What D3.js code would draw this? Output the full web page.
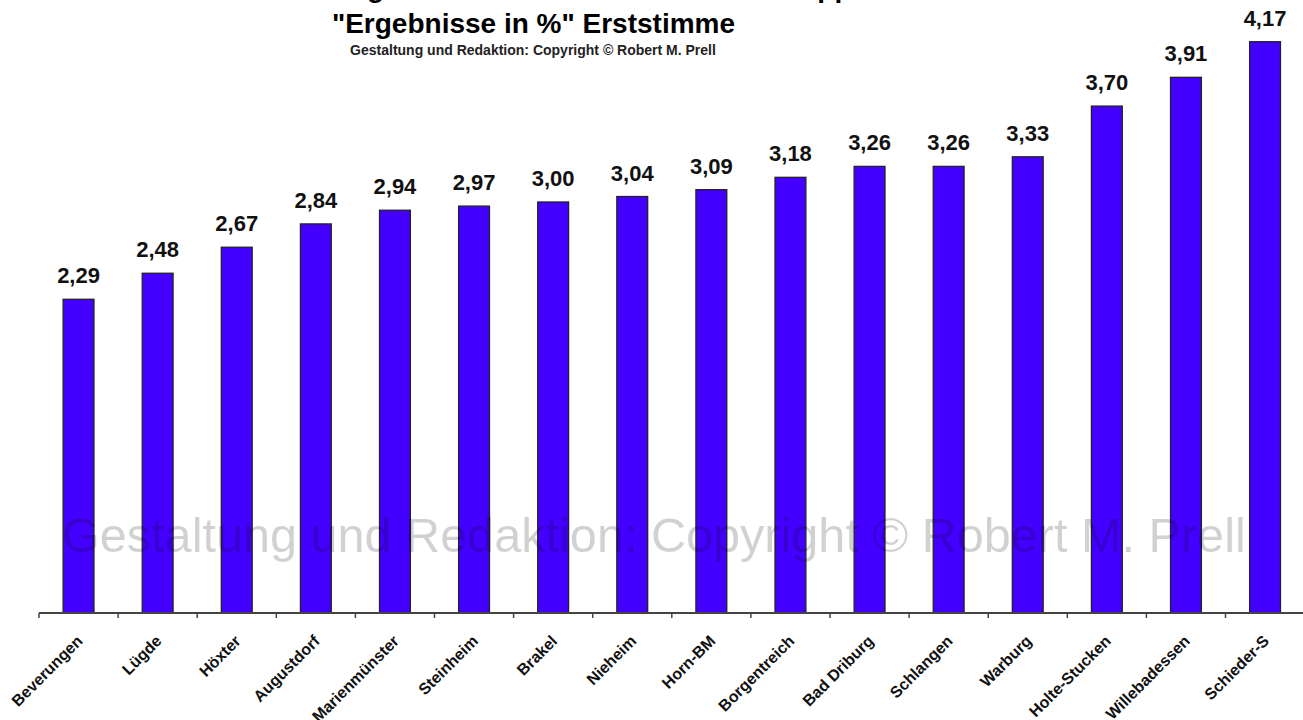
<!DOCTYPE html>
<html>
<head>
<meta charset="utf-8">
<script src="https://cdn.jsdelivr.net/npm/d3@7"></script>
<style>
  body { margin: 0; background: #fff; }
  svg { display: block; font-family: "Liberation Sans", Arial, sans-serif; }
</style>
</head>
<body>
<svg id="chart" width="1303" height="720"></svg>
<script>
// Erststimme in % je Stadt/Gemeinde
const categories = ['Beverungen', 'Lügde', 'Höxter', 'Augustdorf', 'Marienmünster', 'Steinheim',
  'Brakel', 'Nieheim', 'Horn-BM', 'Borgentreich', 'Bad Driburg', 'Schlangen', 'Warburg',
  'Holte-Stucken', 'Willebadessen', 'Schieder-S'];
const values = [2.29, 2.48, 2.67, 2.84, 2.94, 2.97, 3.00, 3.04, 3.09, 3.18, 3.26, 3.26, 3.33, 3.70, 3.91, 4.17];

const titleTop = 'Bundestagswahl 2013 Wahlkreis Höxter - Lippe II';
const title = '"Ergebnisse in %" Erststimme';
const credit = 'Gestaltung und Redaktion: Copyright © Robert M. Prell';

const data = categories.map((c, i) => ({ name: c, value: values[i] }));

const svg = d3.select('#chart');

const x0 = 39, x1 = 1304.6, yBase = 613;
const xScale = d3.scaleBand()
  .domain(categories)
  .range([x0, x1])
  .paddingInner(0.61)
  .paddingOuter(0.305);
const yScale = d3.scaleLinear().domain([0, 4.5]).range([yBase, yBase - 137 * 4.5]);

const fmt = (v) => d3.format('.2f')(v).replace('.', ',');
const gap = (xScale.step() - xScale.bandwidth()) / 2;

// bars
svg.selectAll('.bar')
  .data(data)
  .enter()
  .append('rect')
  .classed('bar', true)
  .attr('x', (d) => xScale(d.name))
  .attr('y', (d) => yScale(d.value))
  .attr('width', xScale.bandwidth())
  .attr('height', (d) => yBase - yScale(d.value))
  .style('fill', '#4400ff')
  .style('stroke', '#222')
  .style('stroke-width', 1.3);

// value labels
svg.selectAll('.val')
  .data(data)
  .enter()
  .append('text')
  .attr('x', (d) => xScale(d.name) + xScale.bandwidth() / 2)
  .attr('y', (d) => yScale(d.value) - 16)
  .attr('text-anchor', 'middle')
  .style('font-size', '22px')
  .style('font-weight', 'bold')
  .style('fill', '#111')
  .text((d) => fmt(d.value));

// x axis (ticks sit between categories)
svg.append('line')
  .attr('x1', x0).attr('x2', 1303)
  .attr('y1', yBase).attr('y2', yBase)
  .style('stroke', '#444').style('stroke-width', 2);

svg.selectAll('.tick')
  .data(categories)
  .enter()
  .append('line')
  .attr('x1', (d) => xScale(d) - gap)
  .attr('x2', (d) => xScale(d) - gap)
  .attr('y1', yBase).attr('y2', yBase + 5)
  .style('stroke', '#444').style('stroke-width', 1.5);

svg.selectAll('.xlab')
  .data(categories)
  .enter()
  .append('text')
  .attr('transform', (d) => `translate(${xScale(d) + xScale.bandwidth() / 2 + 5},642) rotate(-45)`)
  .attr('text-anchor', 'end')
  .style('font-size', '16px')
  .style('font-weight', 'bold')
  .style('fill', '#111')
  .text((d) => d);

// titles
svg.append('text')
  .attr('x', 565).attr('y', -3)
  .attr('text-anchor', 'middle')
  .style('font-size', '28px').style('font-weight', 'bold')
  .text(titleTop);

svg.append('text')
  .attr('x', 533.5).attr('y', 33)
  .attr('text-anchor', 'middle')
  .style('font-size', '28px').style('font-weight', 'bold')
  .text(title);

svg.append('text')
  .attr('x', 533).attr('y', 55)
  .attr('text-anchor', 'middle')
  .style('font-size', '14px').style('font-weight', 'bold')
  .style('fill', '#222')
  .text(credit);

// watermark over the bars
svg.append('text')
  .attr('x', 62).attr('y', 552)
  .style('font-size', '48.6px')
  .style('fill', 'rgba(0,0,0,0.18)')
  .text(credit);
</script>
</body>
</html>
